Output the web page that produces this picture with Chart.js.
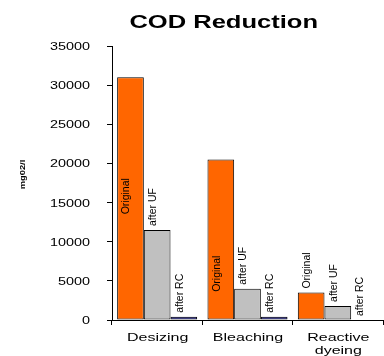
<!DOCTYPE html>
<html>
<head>
<meta charset="utf-8">
<script src="https://cdn.jsdelivr.net/npm/chart.js@4.4.1/dist/chart.umd.min.js"></script>
<style>
  html, body { margin: 0; padding: 0; background: #fff; }
  #wrap { width: 384px; height: 356px; position: relative; }
</style>
</head>
<body>
<div id="wrap"><canvas id="chart"></canvas></div>
<script>
// COD (mg O2/l) before and after treatment, per process stage
const categories = ['Desizing', 'Bleaching', ['Reactive', 'dyeing']];
const seriesNames = ['Original', 'after UF', 'after RC'];
const original = [31000, 20500, 3500];
const afterUF = [11500, 4000, 1800];
const afterRC = [400, 400, 0];
const yTicks = [0, 5000, 10000, 15000, 20000, 25000, 30000, 35000];

// where the "Original" text starts (in axis units) when it sits inside its bar;
// null means it sits just above the bar
const originalLabelStart = [13500, 3600, null];

const FONT = '"Liberation Sans", Arial, sans-serif';

// horizontally widened text, as in the chart's typeface
function wideText(ctx, text, x, y, sx, align) {
  ctx.save();
  ctx.translate(x, y);
  ctx.scale(sx, 1);
  ctx.textAlign = align;
  ctx.fillText(text, 0, 0);
  ctx.restore();
}

const textPlugin = {
  id: 'codText',
  afterDraw(chart) {
    const ctx = chart.ctx;
    const xs = chart.scales.x, ys = chart.scales.y;
    ctx.save();
    ctx.fillStyle = '#000';

    // title
    ctx.font = 'bold 18.5px ' + FONT;
    ctx.textBaseline = 'alphabetic';
    wideText(ctx, 'COD Reduction', 223.7, 27.7, 1.38, 'center');

    // y tick labels
    ctx.font = '11px ' + FONT;
    ctx.textBaseline = 'middle';
    yTicks.forEach(v => {
      wideText(ctx, String(v), ys.right - 22, ys.getPixelForValue(v) + 1, 1.31, 'right');
    });

    // category labels
    ctx.font = '10.7px ' + FONT;
    ctx.textBaseline = 'alphabetic';
    categories.forEach((c, i) => {
      const lines = Array.isArray(c) ? c : [c];
      const cx = xs.getPixelForValue(i);
      lines.forEach((ln, k) => {
        wideText(ctx, ln, cx + 0.5, 341 + k * 13, 1.5, 'center');
      });
    });

    // y axis title
    ctx.save();
    ctx.font = 'bold 7.2px ' + FONT;
    ctx.translate(23, 174.5);
    ctx.rotate(-Math.PI / 2);
    ctx.scale(1.3, 1);
    ctx.textAlign = 'center';
    ctx.textBaseline = 'middle';
    ctx.fillText('mg02/l', 0, 0);
    ctx.restore();

    // rotated series names on the bars
    ctx.font = '10.5px ' + FONT;
    ctx.textAlign = 'left';
    ctx.textBaseline = 'middle';
    chart.data.datasets.forEach((ds, di) => {
      const meta = chart.getDatasetMeta(di);
      meta.data.forEach((bar, i) => {
        let start;
        if (di === 0 && originalLabelStart[i] !== null) {
          start = ys.getPixelForValue(originalLabelStart[i]);
        } else {
          start = bar.y - 4;
        }
        ctx.save();
        ctx.translate(bar.x - 4, start);
        ctx.rotate(-Math.PI / 2);
        ctx.fillText(ds.label, 0, 0);
        ctx.restore();
      });
    });
    ctx.restore();
  }
};

new Chart(document.getElementById('chart'), {
  type: 'bar',
  data: {
    labels: categories,
    datasets: [
      { label: seriesNames[0], data: original, backgroundColor: '#FF6600' },
      { label: seriesNames[1], data: afterUF, backgroundColor: '#C0C0C0' },
      { label: seriesNames[2], data: afterRC, backgroundColor: '#000080' }
    ].map(d => Object.assign(d, {
      borderColor: '#000',
      borderWidth: 1,
      borderSkipped: false,
      categoryPercentage: 0.886,
      barPercentage: 1.0
    }))
  },
  options: {
    responsive: true,
    maintainAspectRatio: false,
    animation: false,
    layout: { padding: { top: 46, right: 1, left: 0, bottom: 0 } },
    plugins: {
      legend: { display: false },
      title: { display: false },
      tooltip: { enabled: false }
    },
    scales: {
      x: {
        offset: true,
        grid: { display: true, drawOnChartArea: false, drawTicks: true, tickLength: 5, color: '#000', offset: true },
        border: { display: true, color: '#000', width: 1 },
        ticks: { display: false },
        afterFit(s) { s.height = 36; }
      },
      y: {
        min: 0,
        max: 35000,
        afterBuildTicks(s) { s.ticks = yTicks.map(v => ({ value: v })); },
        grid: { display: true, drawOnChartArea: false, drawTicks: true, tickLength: 5, color: '#000' },
        border: { display: true, color: '#000', width: 1 },
        ticks: { display: false },
        afterFit(s) { s.width = 112; }
      }
    }
  },
  plugins: [textPlugin]
});
</script>
</body>
</html>
